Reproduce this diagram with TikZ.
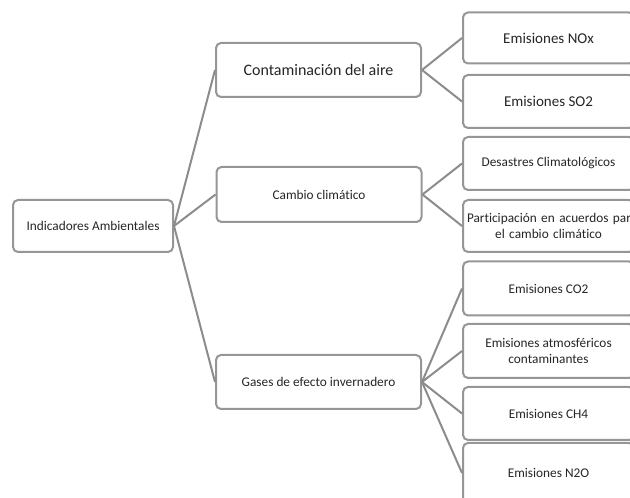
\documentclass[tikz,border=0pt]{standalone}
\usepackage{fontspec}
\setmainfont{Carlito}[Ligatures={NoCommon}]
\begin{document}
\begin{tikzpicture}[x=1pt,y=1pt,
  box/.style={draw=boxgray, line width=2pt, rounded corners=5pt, fill=white, align=center, inner sep=2pt, text=black!85},
  conn/.style={draw=linegray, line width=2pt},
  sm/.style={font=\fontsize{13.3}{15.5}\selectfont},
  bg/.style={font=\fontsize{15}{18}\selectfont}]
\definecolor{boxgray}{RGB}{150,150,150}
\definecolor{linegray}{RGB}{140,140,140}
\useasboundingbox (0,0) rectangle (630,498);
\clip (0,0) rectangle (630,498);
% root
\node[box, sm, minimum width=160pt, minimum height=52pt] (root) at (93,272) {Indicadores Ambientales};
% level 1
\node[box, font=\fontsize{16}{19}\selectfont, minimum width=205pt, minimum height=54pt] (aire) at (318.5,428) {Contaminación del aire};
\node[box, sm, minimum width=205pt, minimum height=55pt] (clima) at (319,303.5) {Cambio climático};
\node[box, sm, minimum width=205pt, minimum height=54pt] (gases) at (318.5,116) {Gases de efecto invernadero};
% level 2
\node[box, bg, minimum width=171pt, minimum height=51pt] (nox) at (548.5,460) {Emisiones NOx};
\node[box, bg, minimum width=171pt, minimum height=53pt] (so2) at (548.5,396.5) {Emisiones SO2};
\node[box, sm, minimum width=171pt, minimum height=53pt] (des) at (548.5,334.5) {Desastres Climatológicos};
\node[box, sm, text width=163pt, minimum width=171pt, minimum height=52pt] (par) at (548.5,272) {\hbox to\linewidth{Participación en acuerdos para\hss}\\el cambio climático};
\node[box, sm, minimum width=171pt, minimum height=54pt] (co2) at (548.5,209.5) {Emisiones CO2};
\node[box, sm, minimum width=171pt, minimum height=54pt] (atm) at (548.5,147) {Emisiones atmosféricos\\contaminantes};
\node[box, sm, minimum width=171pt, minimum height=53pt] (ch4) at (548.5,84.5) {Emisiones CH4};
\node[box, sm, minimum width=171pt, minimum height=60pt] (n2o) at (548.5,25) {Emisiones N2O};
% connectors
\draw[conn] (root.east) -- (aire.west);
\draw[conn] (root.east) -- (clima.west);
\draw[conn] (root.east) -- (gases.west);
\draw[conn] (aire.east) -- (nox.west);
\draw[conn] (aire.east) -- (so2.west);
\draw[conn] (clima.east) -- (des.west);
\draw[conn] (clima.east) -- (par.west);
\draw[conn] (gases.east) -- (co2.west);
\draw[conn] (gases.east) -- (atm.west);
\draw[conn] (gases.east) -- (ch4.west);
\draw[conn] (gases.east) -- (n2o.west);
\end{tikzpicture}
\end{document}
